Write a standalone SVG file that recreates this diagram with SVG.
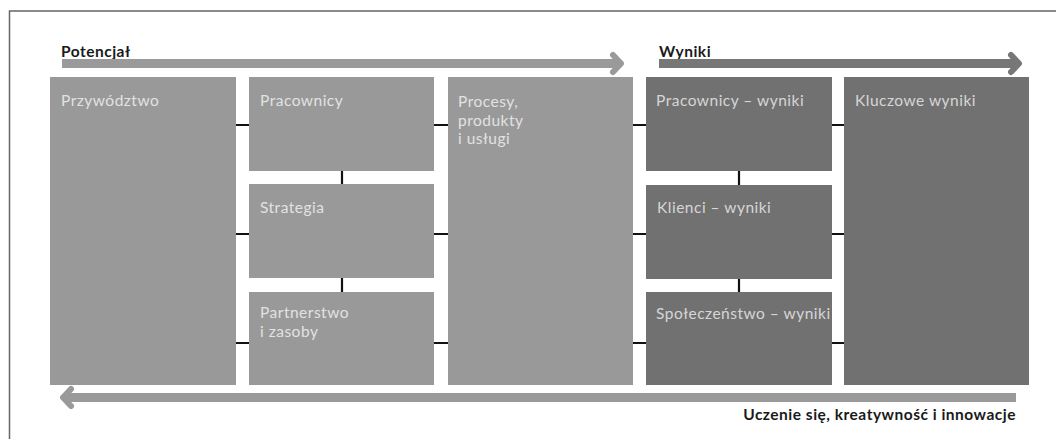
<svg xmlns="http://www.w3.org/2000/svg" width="1056" height="439" viewBox="0 0 1056 439">
<style>
.frame{fill:none;stroke:#666;stroke-width:1.5}
.light{fill:#999999}
.dark{fill:#717171}
.lbl{font-family:Lato,"Liberation Sans",sans-serif;font-size:15.5px;letter-spacing:0.5px;fill:#e2e2e2}
.dlbl{font-family:Lato,"Liberation Sans",sans-serif;font-size:15.5px;letter-spacing:0.5px;fill:#d6d6d6}
.title{font-family:Lato,"Liberation Sans",sans-serif;font-size:15.5px;letter-spacing:0.5px;font-weight:bold;fill:#1a1a1a}
.conn{stroke:#111;stroke-width:2.2;fill:none}
.head{fill:none;stroke-width:6;stroke-linecap:round;stroke-linejoin:round}
</style>
<rect width="1056" height="439" fill="#fff"/>
<path class="frame" d="M9.5 439 V11 H1056"/>

<g id="arrow-potencjal">
<text class="title" x="61" y="57">Potencjał</text>
<rect x="62" y="59" width="556" height="9" fill="#9a9a9a"/>
<polyline class="head" stroke="#9a9a9a" points="613,55 621,63.5 613,72"/>
</g>
<g id="arrow-wyniki">
<text class="title" x="659" y="57">Wyniki</text>
<rect x="659" y="59" width="356" height="9" fill="#777"/>
<polyline class="head" stroke="#777" points="1011,55 1019,63.5 1011,72"/>
</g>
<g id="arrow-uczenie">
<rect x="66" y="393" width="950" height="9" fill="#9a9a9a"/>
<polyline class="head" stroke="#9a9a9a" points="71,389 63,397.5 71,406"/>
<text class="title" x="1016" y="420" text-anchor="end">Uczenie się, kreatywność i innowacje</text>
</g>

<g id="przywodztwo">
<rect class="light" x="50" y="77" width="186" height="308"/>
<text class="lbl" x="61" y="106">Przywództwo</text>
</g>
<g id="pracownicy">
<rect class="light" x="249" y="77" width="185" height="94"/>
<text class="lbl" x="260" y="106">Pracownicy</text>
</g>
<g id="strategia">
<rect class="light" x="249" y="184" width="185" height="94"/>
<text class="lbl" x="260" y="213">Strategia</text>
</g>
<g id="partnerstwo">
<rect class="light" x="249" y="292" width="185" height="93"/>
<text class="lbl" x="260" y="318">Partnerstwo</text>
<text class="lbl" x="260" y="337">i zasoby</text>
</g>
<g id="procesy">
<rect class="light" x="448" y="77" width="185" height="308"/>
<text class="lbl" x="458" y="107">Procesy,</text>
<text class="lbl" x="458" y="126">produkty</text>
<text class="lbl" x="458" y="144">i usługi</text>
</g>
<g id="pracownicy-wyniki">
<rect class="dark" x="646" y="77" width="186" height="94"/>
<text class="dlbl" x="656" y="106">Pracownicy – wyniki</text>
</g>
<g id="klienci-wyniki">
<rect class="dark" x="646" y="185" width="186" height="94"/>
<text class="dlbl" x="657" y="213">Klienci – wyniki</text>
</g>
<g id="spoleczenstwo-wyniki">
<rect class="dark" x="646" y="292" width="186" height="93"/>
<text class="dlbl" x="656" y="319">Społeczeństwo – wyniki</text>
</g>
<g id="kluczowe-wyniki">
<rect class="dark" x="844" y="77" width="185" height="308"/>
<text class="dlbl" x="855" y="106">Kluczowe wyniki</text>
</g>

<g id="connectors">
<path class="conn" d="M236 125H249 M434 125H448 M633 125H646 M832 125H844"/>
<path class="conn" d="M236 234H249 M434 234H448 M633 234H646 M832 234H844"/>
<path class="conn" d="M236 343H249 M434 343H448 M633 343H646 M832 343H844"/>
<path class="conn" d="M342 171V184 M342 278V292 M739 171V185 M739 279V292"/>
</g>
</svg>
